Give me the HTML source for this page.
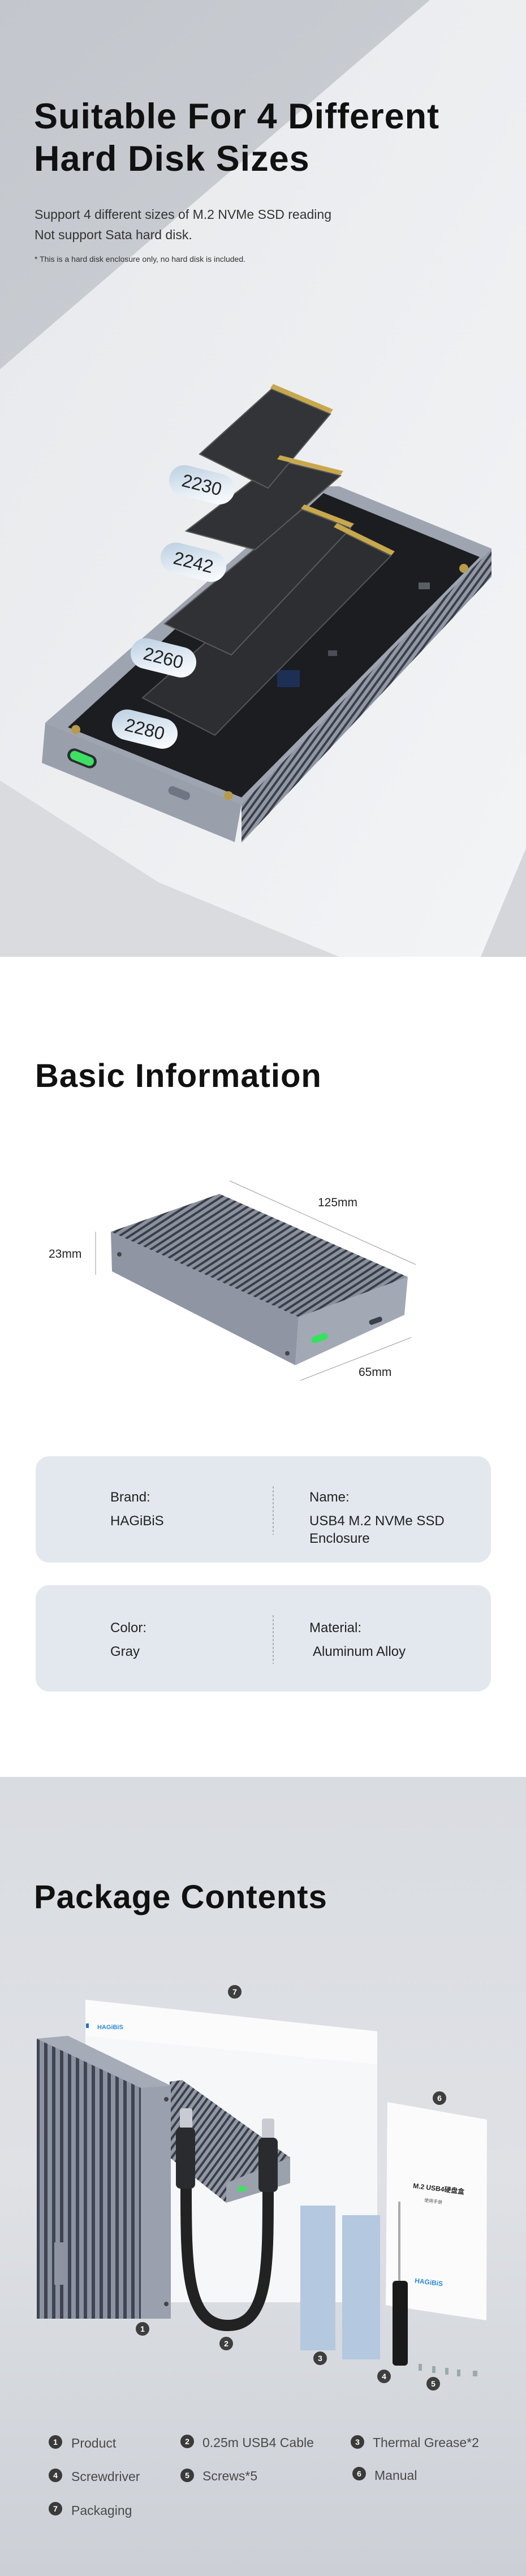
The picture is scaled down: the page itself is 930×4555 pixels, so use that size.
<!DOCTYPE html>
<html><head><meta charset="utf-8"><style>
html,body{margin:0;padding:0;}
body{width:930px;height:4555px;overflow:hidden;background:#fff;}
svg{display:block;}
text{font-family:"Liberation Sans","Noto Sans CJK SC",sans-serif;}
</style></head><body>
<svg width="930" height="4555" viewBox="0 0 930 4555" xmlns="http://www.w3.org/2000/svg">
<defs>
<linearGradient id="s1r" x1="0" y1="0" x2="1" y2="1"><stop offset="0" stop-color="#e6e8eb"/><stop offset="1" stop-color="#f3f4f6"/></linearGradient>
<linearGradient id="s1l" x1="0" y1="0" x2="1" y2="1"><stop offset="0" stop-color="#c3c7cd"/><stop offset="1" stop-color="#ccd0d5"/></linearGradient>
<linearGradient id="s3" x1="0" y1="0" x2="0" y2="1"><stop offset="0" stop-color="#d9dce1"/><stop offset="0.5" stop-color="#dfe1e5"/><stop offset="1" stop-color="#ccd0d6"/></linearGradient>
<linearGradient id="pill" x1="0" y1="0" x2="1" y2="1"><stop offset="0" stop-color="#b9cde0"/><stop offset="0.6" stop-color="#e6eef6"/><stop offset="1" stop-color="#ffffff"/></linearGradient>
<pattern id="fins" width="14" height="10" patternUnits="userSpaceOnUse"><rect width="14" height="10" fill="#8b92a1"/><rect x="8" width="6" height="10" fill="#3f4450"/></pattern>
<pattern id="fins2" width="10" height="10" patternUnits="userSpaceOnUse" patternTransform="rotate(-33)"><rect width="10" height="10" fill="#8a909d"/><rect y="6" width="10" height="4" fill="#3a3e48"/></pattern>
<pattern id="fins3" width="10" height="10" patternUnits="userSpaceOnUse" patternTransform="rotate(36)"><rect width="10" height="10" fill="#9197a4"/><rect x="6" width="4" height="10" fill="#3b3f49"/></pattern>
</defs>

<!-- SECTION 1 -->
<rect x="0" y="0" width="930" height="1692" fill="url(#s1r)"/>
<polygon points="0,0 760,0 0,653" fill="url(#s1l)"/>
<polygon points="0,1380 280,1560 600,1692 0,1692" fill="#d9dbdf"/>
<polygon points="850,1692 930,1500 930,1692" fill="#d4d6da"/>
<text x="60" y="227" font-size="63" font-weight="bold" fill="#111" letter-spacing="1">Suitable For 4 Different</text>
<text x="60" y="302" font-size="63" font-weight="bold" fill="#111" letter-spacing="1">Hard Disk Sizes</text>
<text x="61" y="387" font-size="23" fill="#333">Support 4 different sizes of M.2 NVMe SSD reading</text>
<text x="61" y="423" font-size="23" fill="#333">Not support Sata hard disk.</text>
<text x="61" y="463" font-size="14" fill="#333">* This is a hard disk enclosure only, no hard disk is included.</text>

<!-- tray -->
<polygon points="427,1422 869,970 869,1020 427,1490" fill="url(#fins3)"/>
<polygon points="80,1278 560,860 600,860 869,970 427,1422" fill="#9ea4b0"/>
<polygon points="120,1286 572,872 848,985 427,1410" fill="#1b1d20"/>
<polygon points="80,1278 427,1422 415,1489 74,1349" fill="#9aa0ab"/>
<rect x="118" y="1329" width="54" height="24" rx="12" fill="#2a2d31" transform="rotate(22 145 1341)"/>
<rect x="123" y="1333" width="44" height="16" rx="8" fill="#3ee063" transform="rotate(22 145 1341)"/>
<rect x="297" y="1395" width="40" height="15" rx="7" fill="#6f7583" transform="rotate(22 317 1402)"/>
<circle cx="134" cy="1290" r="8" fill="#b89a4c"/><circle cx="404" cy="1407" r="8" fill="#b89a4c"/><circle cx="820" cy="1005" r="8" fill="#b89a4c"/>
<rect x="740" y="1030" width="20" height="12" fill="#5a5e66"/><rect x="580" y="1150" width="16" height="10" fill="#4a4e56"/>
<rect x="490" y="1185" width="40" height="30" fill="#1d2f55"/>
<!-- SSDs -->
<polygon points="252,1234 380,1300 691,983 593,934" fill="#2c2e31" stroke="#555" stroke-width="2"/>
<polygon points="291,1103 409,1158 620,934 534,901" fill="#2f3134" stroke="#5a5a5a" stroke-width="2"/>
<polygon points="329,939 451,972 602,841 492,814" fill="#303235" stroke="#5a5a5a" stroke-width="2"/>
<polygon points="353,803 474,863 584,732 480,688" fill="#323437" stroke="#5a5a5a" stroke-width="2"/>
<polygon points="590,932 692,982 698,975 596,925" fill="#c8a84c"/>
<polygon points="532,899 620,933 626,926 538,892" fill="#c8a84c"/>
<polygon points="490,812 602,840 607,833 495,805" fill="#c8a84c"/>
<polygon points="478,686 584,731 589,724 483,679" fill="#c8a84c"/>
<!-- pills -->
<g transform="rotate(14 356 857)"><rect x="298" y="830" width="118" height="54" rx="27" fill="url(#pill)"/><text x="357" y="868" font-family="Liberation Serif,serif" font-size="32" fill="#222" text-anchor="middle">2230</text></g>
<g transform="rotate(14 341 994)"><rect x="283" y="967" width="118" height="54" rx="27" fill="url(#pill)"/><text x="342" y="1005" font-family="Liberation Serif,serif" font-size="32" fill="#222" text-anchor="middle">2242</text></g>
<g transform="rotate(14 288 1163)"><rect x="230" y="1136" width="118" height="54" rx="27" fill="url(#pill)"/><text x="289" y="1174" font-family="Liberation Serif,serif" font-size="32" fill="#222" text-anchor="middle">2260</text></g>
<g transform="rotate(14 255 1289)"><rect x="197" y="1262" width="118" height="54" rx="27" fill="url(#pill)"/><text x="256" y="1300" font-family="Liberation Serif,serif" font-size="32" fill="#222" text-anchor="middle">2280</text></g>

<!-- SECTION 2 -->
<text x="62" y="1922" font-size="58" font-weight="bold" fill="#111" letter-spacing="1">Basic Information</text>
<polygon points="196,2178 388,2111 721,2258 528,2329" fill="url(#fins2)"/>
<polygon points="196,2178 528,2329 522,2414 198,2248" fill="#8f95a2"/>
<polygon points="528,2329 721,2258 715,2325 522,2414" fill="#a3a9b4"/>
<rect x="550" y="2360" width="30" height="12" rx="6" fill="#35e25c" transform="rotate(-20 565 2366)"/>
<rect x="652" y="2331" width="24" height="9" rx="4" fill="#3b3f48" transform="rotate(-20 664 2335)"/>
<circle cx="211" cy="2218" r="4" fill="#444"/><circle cx="508" cy="2393" r="4" fill="#444"/>
<line x1="406" y1="2088" x2="735" y2="2236" stroke="#999" stroke-width="1"/>
<line x1="169" y1="2178" x2="169" y2="2254" stroke="#999" stroke-width="1"/>
<line x1="531" y1="2441" x2="727" y2="2365" stroke="#999" stroke-width="1"/>
<text x="562" y="2133" font-size="21" fill="#222">125mm</text>
<text x="86" y="2224" font-size="21" fill="#222">23mm</text>
<text x="634" y="2433" font-size="21" fill="#222">65mm</text>

<rect x="63" y="2575" width="805" height="188" rx="24" fill="#e3e8ef"/>
<rect x="63" y="2803" width="805" height="188" rx="24" fill="#e3e8ef"/>
<line x1="483" y1="2628" x2="483" y2="2714" stroke="#999" stroke-width="1.5" stroke-dasharray="4 3"/>
<line x1="483" y1="2856" x2="483" y2="2942" stroke="#999" stroke-width="1.5" stroke-dasharray="4 3"/>
<g font-size="24" fill="#222">
<text x="195" y="2655">Brand:</text><text x="195" y="2697">HAGiBiS</text>
<text x="547" y="2655">Name:</text><text x="547" y="2697">USB4 M.2 NVMe SSD</text><text x="547" y="2728">Enclosure</text>
<text x="195" y="2886">Color:</text><text x="195" y="2928">Gray</text>
<text x="547" y="2886">Material:</text><text x="553" y="2928">Aluminum Alloy</text>
</g>

<!-- SECTION 3 -->
<rect x="0" y="3142" width="930" height="1413" fill="url(#s3)"/>
<text x="60" y="3374" font-size="58" font-weight="bold" fill="#111" letter-spacing="1">Package Contents</text>
<polygon points="151,3536 667,3592 667,4071 151,4071" fill="#f6f7f8"/>
<polygon points="151,3536 667,3592 667,3650 151,3600" fill="#fbfbfc"/>
<rect x="152" y="3578" width="5" height="8" fill="#1e73c8"/>
<text x="172" y="3588" font-size="11" font-weight="bold" fill="#2b8bd8">HAGiBiS</text>
<!-- flat enclosure -->
<polygon points="300,3681 322,3678 513,3815 513,3860 400,3895 300,3815" fill="url(#fins3)"/>
<polygon points="400,3860 513,3815 513,3860 400,3895" fill="#9ba1ad"/>
<rect x="420" y="3866" width="16" height="9" rx="4" fill="#3fe163"/>
<!-- standing enclosure -->
<polygon points="65,3605 120,3600 302,3688 302,4100 65,4100" fill="url(#fins)"/>
<polygon points="249,3690 302,3688 302,4100 249,4100" fill="#9aa0ad"/>
<polygon points="65,3605 120,3600 302,3688 249,3692" fill="#a5abb7"/>
<rect x="96" y="3965" width="16" height="75" fill="#8e94a1"/>
<circle cx="294" cy="3712" r="4" fill="#444"/><circle cx="294" cy="4074" r="4" fill="#444"/>
<!-- cable -->
<path d="M329,3870 C329,4010 330,4112 403,4112 C474,4112 474,4010 474,3875" fill="none" stroke="#222" stroke-width="20"/>
<rect x="318" y="3728" width="22" height="36" rx="4" fill="#c8ccd2"/>
<rect x="311" y="3762" width="34" height="108" rx="8" fill="#2a2b2e"/>
<rect x="463" y="3746" width="22" height="36" rx="4" fill="#c8ccd2"/>
<rect x="457" y="3780" width="34" height="96" rx="8" fill="#2a2b2e"/>
<!-- pads -->
<rect x="531" y="3900" width="62" height="256" fill="#b4c8e0"/>
<rect x="605" y="3917" width="67" height="255" fill="#b4c8e0"/>
<!-- manual -->
<polygon points="685,3717 861,3748 860,4103 682,4076" fill="#fbfbfc"/>
<text x="730" y="3873" font-size="12" font-weight="bold" fill="#222" transform="rotate(7 765 3870)">M.2 USB4硬盘盒</text>
<text x="750" y="3895" font-size="8" fill="#555" transform="rotate(7 765 3893)">使用手册</text>
<text x="733" y="4040" font-size="12" font-weight="bold" fill="#2b8bd8" transform="rotate(7 762 4037)">HAGiBiS</text>
<!-- screwdriver -->
<rect x="704" y="3893" width="4" height="142" fill="#aaa"/>
<rect x="694" y="4033" width="27" height="150" rx="6" fill="#1a1a1a"/>
<g fill="#9aa"><rect x="740" y="4180" width="6" height="12"/><rect x="764" y="4184" width="6" height="12"/><rect x="787" y="4187" width="6" height="12"/><rect x="808" y="4190" width="6" height="12"/><rect x="836" y="4192" width="8" height="10"/></g>
<!-- markers -->
<g font-size="14" font-weight="bold" fill="#fff" text-anchor="middle">
<circle cx="415" cy="3522" r="12" fill="#3e3e3e"/><text x="415" y="3527">7</text>
<circle cx="777" cy="3710" r="12" fill="#3e3e3e"/><text x="777" y="3715">6</text>
<circle cx="252" cy="4118" r="12" fill="#3e3e3e"/><text x="252" y="4123">1</text>
<circle cx="400" cy="4144" r="12" fill="#3e3e3e"/><text x="400" y="4149">2</text>
<circle cx="566" cy="4170" r="12" fill="#3e3e3e"/><text x="566" y="4175">3</text>
<circle cx="679" cy="4202" r="12" fill="#3e3e3e"/><text x="679" y="4207">4</text>
<circle cx="766" cy="4215" r="12" fill="#3e3e3e"/><text x="766" y="4220">5</text>
</g>
<!-- legend -->
<g font-size="14" font-weight="bold" fill="#fff" text-anchor="middle">
<circle cx="98" cy="4318" r="12" fill="#3a3a3a"/><text x="98" y="4323">1</text>
<circle cx="331" cy="4317" r="12" fill="#3a3a3a"/><text x="331" y="4322">2</text>
<circle cx="632" cy="4318" r="12" fill="#3a3a3a"/><text x="632" y="4323">3</text>
<circle cx="98" cy="4377" r="12" fill="#3a3a3a"/><text x="98" y="4382">4</text>
<circle cx="331" cy="4377" r="12" fill="#3a3a3a"/><text x="331" y="4382">5</text>
<circle cx="635" cy="4374" r="12" fill="#3a3a3a"/><text x="635" y="4379">6</text>
<circle cx="98" cy="4436" r="12" fill="#3a3a3a"/><text x="98" y="4441">7</text>
</g>
<g font-size="23" fill="#4a4a4a">
<text x="126" y="4328">Product</text>
<text x="358" y="4327">0.25m USB4 Cable</text>
<text x="659" y="4327">Thermal Grease*2</text>
<text x="126" y="4387">Screwdriver</text>
<text x="358" y="4386">Screws*5</text>
<text x="662" y="4385">Manual</text>
<text x="126" y="4447">Packaging</text>
</g>
</svg>
</body></html>
